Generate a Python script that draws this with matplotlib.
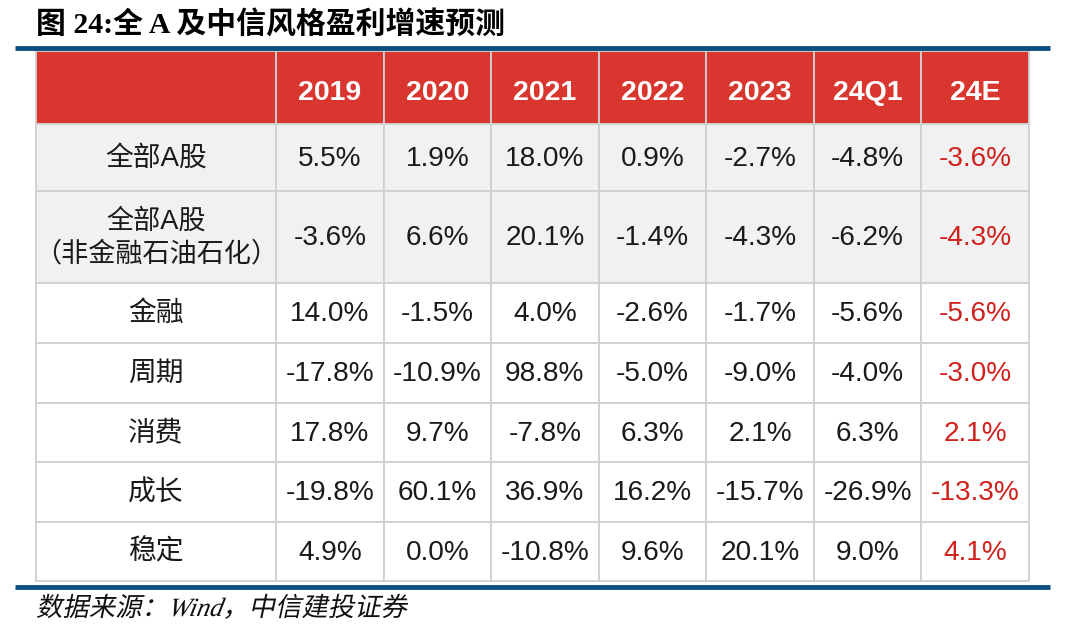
import matplotlib
matplotlib.use('Agg')
import matplotlib.pyplot as plt
from matplotlib.patches import Rectangle, PathPatch
from matplotlib.textpath import TextPath
from matplotlib.font_manager import FontProperties
from matplotlib.transforms import Affine2D

plt.rcParams['font.family'] = ['Liberation Sans', 'Noto Sans CJK SC', 'DejaVu Sans']

# Table data
years = ['2019', '2020', '2021', '2022', '2023', '24Q1', '24E']
row_labels = ['全部A股', '全部A股\n（非金融石油石化）', '金融', '周期', '消费', '成长', '稳定']
all_a = ['5.5%', '1.9%', '18.0%', '0.9%', '-2.7%', '-4.8%', '-3.6%']
all_a_ex = ['-3.6%', '6.6%', '20.1%', '-1.4%', '-4.3%', '-6.2%', '-4.3%']
finance = ['14.0%', '-1.5%', '4.0%', '-2.6%', '-1.7%', '-5.6%', '-5.6%']
cyclical = ['-17.8%', '-10.9%', '98.8%', '-5.0%', '-9.0%', '-4.0%', '-3.0%']
consumer = ['17.8%', '9.7%', '-7.8%', '6.3%', '2.1%', '6.3%', '2.1%']
growth = ['-19.8%', '60.1%', '36.9%', '16.2%', '-15.7%', '-26.9%', '-13.3%']
stable = ['4.9%', '0.0%', '-10.8%', '9.6%', '20.1%', '9.0%', '4.1%']
rows = [all_a, all_a_ex, finance, cyclical, consumer, growth, stable]

title = '图 24:全 A 及中信风格盈利增速预测'
source = '数据来源：Wind，中信建投证券'

# Layout (pixels)
W, H = 1076, 636
row_edges = [50.7, 123.5, 190.7, 283, 342.7, 402.7, 461.7, 521.7, 580.7]
x_left, x_label = 36, 276
col_w = (1029 - x_label) / len(years)
red = '#D9362F'
blue = '#0B4F7F'
grid = '#D0D0D0'

fig = plt.figure(figsize=(W / 100, H / 100), dpi=100)
ax = fig.add_axes([0, 0, 1, 1])
ax.set_xlim(0, W)
ax.set_ylim(H, 0)
ax.axis('off')

col_edges = [x_left, x_label] + [x_label + col_w * (i + 1) for i in range(len(years))]

# header
y0, y1 = row_edges[0], row_edges[1]
for c in range(len(col_edges) - 1):
    ax.add_patch(Rectangle((col_edges[c], y0), col_edges[c + 1] - col_edges[c], y1 - y0,
                           facecolor=red, edgecolor=grid, lw=1.3))
for i, yr in enumerate(years):
    xc = (col_edges[i + 1] + col_edges[i + 2]) / 2
    ax.text(xc, 93, yr, color='white', fontsize=20.5, fontweight='bold',
            ha='center', va='center')

# body
for r, vals in enumerate(rows):
    y0, y1 = row_edges[r + 1], row_edges[r + 2]
    yc = (y0 + y1) / 2
    bg = '#F1F1F1' if r < 2 else 'white'
    for c in range(len(col_edges) - 1):
        ax.add_patch(Rectangle((col_edges[c], y0), col_edges[c + 1] - col_edges[c], y1 - y0,
                               facecolor=bg, edgecolor=grid, lw=1.3))
    lab_size = 19.5 if '\n' in row_labels[r] else 20
    ax.text((x_left + x_label) / 2, yc + 1.5, row_labels[r], fontsize=lab_size, color='#1a1a1a',
            ha='center', va='center', linespacing=1.35)
    for i, v in enumerate(vals):
        xc = (col_edges[i + 1] + col_edges[i + 2]) / 2
        color = '#D0201B' if i == len(vals) - 1 else '#1a1a1a'
        ax.text(xc, yc + 1.5, v, fontsize=20.2, color=color, ha='center', va='center')

# title, rules
ax.text(36, 25, title, fontsize=21.5, fontweight='bold', ha='left', va='center',
        family=['Liberation Serif', 'Noto Sans CJK SC'])
ax.plot([15, 1050], [47.5, 47.5], color=blue, lw=3.5, solid_capstyle='butt')
ax.plot([15, 1050], [587, 587], color=blue, lw=3.5, solid_capstyle='butt')

# source line, slanted like the original
fp = FontProperties(family=['Liberation Serif', 'Noto Sans CJK SC'], style='italic')
tp = TextPath((0, 0), source, size=19 * 100 / 72, prop=fp)
skew = Affine2D().skew_deg(12, 0).scale(1, -1).translate(36, 616)
ax.add_patch(PathPatch(tp, transform=skew + ax.transData, facecolor='#111111',
                       edgecolor='none'))

fig.savefig('out.png', dpi=100)
